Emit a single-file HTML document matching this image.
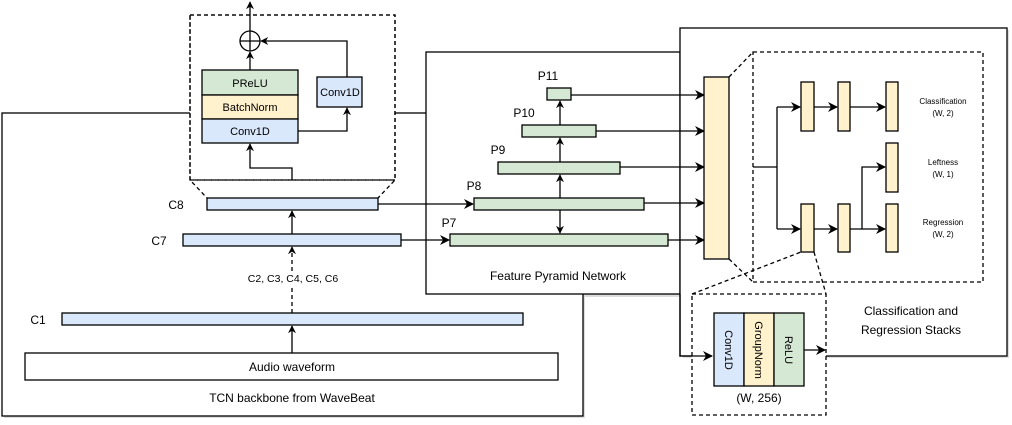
<!DOCTYPE html>
<html><head><meta charset="utf-8"><style>
html,body{margin:0;padding:0;background:#fff;}
svg{display:block;font-family:"Liberation Sans",Arial,sans-serif;}
</style></head><body>
<svg width="1012" height="425" viewBox="0 0 1012 425" xmlns="http://www.w3.org/2000/svg">
<defs>
<marker id="a" viewBox="0 0 10 10" refX="9" refY="5" markerWidth="8" markerHeight="8" markerUnits="userSpaceOnUse" orient="auto"><path d="M0,0 L10,5 L0,10 L3,5 z" fill="#000"/></marker>
<marker id="b" viewBox="0 0 10 10" refX="9" refY="5" markerWidth="10" markerHeight="10" markerUnits="userSpaceOnUse" orient="auto"><path d="M0,0 L10,5 L0,10 L3,5 z" fill="#000"/></marker>
</defs>
<g stroke="#000" stroke-width="1.3" fill="none">
<!-- shadows -->
<rect x="4" y="115" width="581" height="303" fill="#ddd" stroke="none"/>
<rect x="428" y="54" width="254" height="243" fill="#ddd" stroke="none"/>
<rect x="683" y="30" width="326" height="328" fill="#ddd" stroke="none"/>
<!-- TCN box -->
<rect x="2" y="113" width="581" height="303" fill="#fff"/>
<!-- FPN box -->
<rect x="426" y="52" width="254" height="242" fill="#fff"/>
<!-- Cls box -->
<rect x="680" y="28" width="327" height="328" fill="#fff"/>
<!-- top dashed zoom box -->
<path d="M190,15 H395 V180 L378,198 M190,15 V180 L207,198" fill="#fff" stroke="none"/>
<path d="M190,15 H395 V180 L378,198 M190,15 V180 L207,198 M190,180 H395" stroke-dasharray="4,3"/>
<rect x="191" y="16" width="203" height="163" fill="#fff" stroke="none"/>
<path d="M190,15 H395 V180 H190 Z" stroke-dasharray="4,3"/>
<!-- inner block -->
<rect x="202" y="70" width="96" height="25" fill="#d5e8d4"/>
<rect x="202" y="95" width="96" height="24" fill="#fff2cc"/>
<rect x="202" y="119" width="96" height="24" fill="#dae8fc"/>
<rect x="317" y="77" width="45" height="30" fill="#dae8fc"/>
<circle cx="250" cy="41" r="10"/>
<path d="M240,41 H260 M250,31 V51"/>
<path d="M250,70 V52" marker-end="url(#a)"/>
<path d="M250,31 V2" marker-end="url(#a)"/>
<path d="M347,77 V41 H261" marker-end="url(#a)"/>
<path d="M298,131 H347 V108" marker-end="url(#a)"/>
<path d="M292,180 V168 H250 V144" marker-end="url(#a)"/>
<!-- C boxes -->
<rect x="207" y="198" width="171" height="12" fill="#dae8fc"/>
<rect x="183" y="234" width="218" height="12" fill="#dae8fc"/>
<rect x="62" y="313" width="461" height="12" fill="#dae8fc"/>
<rect x="25" y="353" width="533" height="27" fill="#fff"/>
<path d="M292,234 V211" marker-end="url(#a)"/>
<path d="M292,313 V247" stroke-dasharray="4,3" marker-end="url(#a)"/>
<rect x="238" y="271" width="110" height="14" fill="#fff" stroke="none"/>
<path d="M292,353 V326" marker-end="url(#a)"/>
<!-- P boxes -->
<rect x="450" y="234" width="218" height="12" fill="#d5e8d4"/>
<rect x="474" y="198" width="170" height="12" fill="#d5e8d4"/>
<rect x="498" y="162" width="122" height="12" fill="#d5e8d4"/>
<rect x="522" y="125" width="74" height="12" fill="#d5e8d4"/>
<rect x="547" y="88" width="24" height="12" fill="#d5e8d4"/>
<path d="M378,204 H473" marker-end="url(#b)"/>
<path d="M401,240 H449" marker-end="url(#b)"/>
<path d="M560,198 V175" marker-end="url(#a)"/>
<path d="M560,162 V138" marker-end="url(#a)"/>
<path d="M560,125 V101" marker-end="url(#a)"/>
<path d="M560,210 V233" marker-end="url(#a)"/>
<path d="M571,95 H704" marker-end="url(#b)"/>
<path d="M596,131 H704" marker-end="url(#b)"/>
<path d="M620,167 H704" marker-end="url(#b)"/>
<path d="M644,203 H704" marker-end="url(#b)"/>
<path d="M668,240 H704" marker-end="url(#b)"/>
<rect x="704" y="77" width="25" height="182" fill="#fff2cc"/>
<!-- cls dashed -->
<rect x="753" y="52" width="230" height="230" stroke-dasharray="4,3"/>
<path d="M729,77 L753,52 M729,259 L753,282" stroke-dasharray="4,3"/>
<path d="M753,167 H777 M777,107 V229"/>
<path d="M777,107 H800" marker-end="url(#b)"/>
<path d="M777,229 H800" marker-end="url(#b)"/>
<path d="M814,107 H837" marker-end="url(#b)"/>
<path d="M814,229 H837" marker-end="url(#b)"/>
<path d="M850,107 H885" marker-end="url(#b)"/>
<path d="M850,229 H885" marker-end="url(#b)"/>
<path d="M862,229 V167 H885" marker-end="url(#b)"/>
<g fill="#fff2cc">
<rect x="801" y="82" width="13" height="49"/><rect x="838" y="82" width="12" height="49"/><rect x="886" y="82" width="12" height="49"/>
<rect x="886" y="143" width="12" height="49"/>
<rect x="801" y="204" width="13" height="48"/><rect x="838" y="204" width="12" height="48"/><rect x="886" y="204" width="12" height="48"/>
</g>
<!-- bottom dashed -->
<rect x="692" y="294" width="134" height="121" stroke-dasharray="4,3" fill="#fff"/>
<path d="M692,294 L801,252 M814,252 L826,294" stroke-dasharray="4,3"/>
<path d="M680,294 V356 H712" marker-end="url(#b)"/>
<rect x="714" y="313" width="30" height="73" fill="#dae8fc"/>
<rect x="744" y="313" width="30" height="73" fill="#fff2cc"/>
<rect x="774" y="313" width="30" height="73" fill="#d5e8d4"/>
<path d="M804,350 H825" marker-end="url(#b)"/>
</g>
<g fill="#000" text-anchor="middle">
<text x="250" y="87" font-size="11">PReLU</text>
<text x="250" y="111" font-size="11">BatchNorm</text>
<text x="250" y="135" font-size="11">Conv1D</text>
<text x="340" y="96" font-size="11">Conv1D</text>
<text x="176" y="209" font-size="12">C8</text>
<text x="159" y="245" font-size="12">C7</text>
<text x="38" y="324" font-size="12">C1</text>
<text x="293" y="282" font-size="10.5">C2, C3, C4, C5, C6</text>
<text x="292" y="371" font-size="12">Audio waveform</text>
<text x="292" y="402" font-size="12">TCN backbone from WaveBeat</text>
<text x="449" y="227" font-size="12">P7</text>
<text x="474" y="190" font-size="12">P8</text>
<text x="498" y="154" font-size="12">P9</text>
<text x="524" y="117" font-size="12">P10</text>
<text x="548" y="80" font-size="12">P11</text>
<text x="558" y="280" font-size="12">Feature Pyramid Network</text>
<text x="943" y="104" font-size="8">Classification</text>
<text x="943" y="116" font-size="8">(W, 2)</text>
<text x="943" y="165" font-size="8">Leftness</text>
<text x="943" y="177" font-size="8">(W, 1)</text>
<text x="943" y="225" font-size="8">Regression</text>
<text x="943" y="237" font-size="8">(W, 2)</text>
<text x="911" y="315" font-size="12">Classification and</text>
<text x="911" y="334" font-size="12">Regression Stacks</text>
<text x="759" y="402" font-size="12">(W, 256)</text>
<text font-size="11" transform="translate(725,350) rotate(90)">Conv1D</text>
<text font-size="11" transform="translate(755,350) rotate(90)">GroupNorm</text>
<text font-size="11" transform="translate(785,350) rotate(90)">ReLU</text>
</g>
</svg>
</body></html>
